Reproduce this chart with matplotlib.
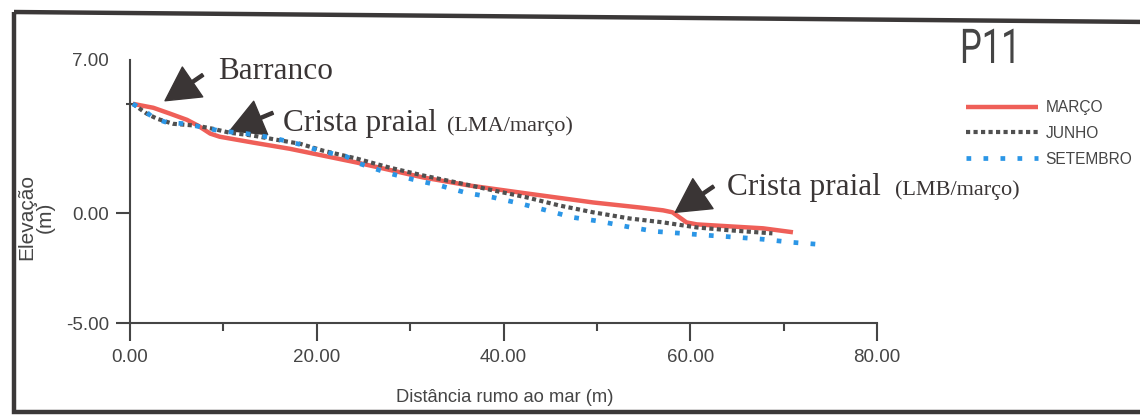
import matplotlib
matplotlib.use('Agg')
import matplotlib.pyplot as plt
from matplotlib.patches import Polygon, PathPatch
from matplotlib.textpath import TextPath
from matplotlib.font_manager import FontProperties
from matplotlib.transforms import Affine2D

# Perfil P11 - elevacao ao longo da distancia rumo ao mar
dist_marco = [0.3, 2.5, 4.3, 6.1, 7.3, 8.6, 9.6, 13.2, 17.1, 24.3, 31.4, 36.4,
              42.5, 49.6, 54.6, 57.1, 58.1, 59.6, 60.7, 64.2, 67.8, 71.0]
elev_marco = [5.0, 4.82, 4.55, 4.27, 4.0, 3.64, 3.5, 3.23, 2.95, 2.32, 1.64, 1.27,
              0.91, 0.5, 0.27, 0.14, 0.05, -0.41, -0.5, -0.59, -0.68, -0.86]

dist_junho = [0.3, 1.8, 2.9, 4.6, 7.2, 8.9, 10.7, 13.2, 15.7, 18.2, 20.7, 24.3,
              27.8, 31.4, 35.0, 38.9, 42.5, 46.0, 49.6, 53.5, 57.1, 60.7, 64.2, 68.8]
elev_junho = [5.0, 4.55, 4.32, 4.09, 4.0, 3.86, 3.68, 3.55, 3.36, 3.18, 2.86, 2.5,
              2.09, 1.73, 1.41, 1.05, 0.73, 0.36, 0.05, -0.23, -0.41, -0.64, -0.77, -0.91]

dist_setembro = [0.3, 1.6, 2.5, 4.0, 6.1, 7.5, 9.6, 12.5, 15.3, 18.2, 20.3, 23.2,
                 24.6, 27.5, 30.3, 33.2, 36.1, 38.9, 41.8, 44.6, 47.4, 50.3, 53.2,
                 56.2, 59.1, 61.9, 65.0, 67.8, 70.9, 73.7]
elev_setembro = [5.0, 4.68, 4.36, 4.14, 4.09, 3.95, 3.77, 3.64, 3.45, 3.15, 2.86, 2.59,
                 2.27, 1.86, 1.55, 1.27, 0.93, 0.73, 0.45, 0.14, -0.18, -0.36, -0.6,
                 -0.82, -0.91, -1.0, -1.09, -1.18, -1.32, -1.41]

x_ticks = [0, 20, 40, 60, 80]
x_minor = [10, 30, 50, 70]
y_ticks = [-5, 0, 7]

red = '#ef5f58'
gray = '#505050'
blue = '#2b96e6'
ink = '#454545'

plt.rcParams['font.family'] = ['Liberation Sans', 'DejaVu Sans']

W, H = 1140, 418
fig = plt.figure(figsize=(W / 100, H / 100), dpi=100)
fig.patch.set_facecolor('white')

# moldura escura em volta de tudo (pixels, origem em baixo)
frame = Polygon([(14, H - 12), (1150, H - 22), (1150, H - 412), (14, H - 412)],
                closed=True, fill=False, edgecolor='#3b3838', linewidth=3.2,
                transform=None)
fig.add_artist(frame)

ax = fig.add_axes([130 / W, 1 - 323 / H, 747 / W, 263 / H])
ax.set_xlim(0, 80)
ax.set_ylim(-5, 7)

ax.plot(dist_marco, elev_marco, color=red, lw=3.2, solid_capstyle='butt',
        label='MARÇO', zorder=3)
ax.plot(dist_junho, elev_junho, color=gray, lw=3.0, linestyle=(0, (1, 0.8)),
        label='JUNHO', zorder=4)
ax.plot(dist_setembro, elev_setembro, color=blue, lw=3.4, linestyle=(0, (1, 2.6)),
        label='SETEMBRO', zorder=5)

for s in ['top', 'right']:
    ax.spines[s].set_visible(False)
for s in ['left', 'bottom']:
    ax.spines[s].set_color(ink)
    ax.spines[s].set_linewidth(1.5)

ax.set_xticks(x_ticks)
ax.set_xticks(x_minor, minor=True)
ax.set_xticklabels(['%.2f' % v for v in x_ticks])
ax.set_yticks(y_ticks)
ax.set_yticks([5], minor=True)
ax.set_yticklabels(['%.2f' % v for v in y_ticks])
ax.tick_params(axis='x', which='major', length=13, width=1.5, color=ink,
               labelsize=13.5, labelcolor=ink, pad=6)
ax.tick_params(axis='x', which='minor', length=6, width=1.5, color=ink)
ax.tick_params(axis='y', which='major', length=10, width=1.5, color=ink,
               labelsize=13.5, labelcolor=ink, pad=5)
ax.tick_params(axis='y', which='minor', length=6, width=1.5, color=ink,
               direction='inout')
ax.yaxis.get_major_ticks()[-1].tick1line.set_visible(False)

fig.text(36 / W, 1 - 217 / H, 'Elevação\n(m)', rotation=90, ha='center',
         va='center', fontsize=15, color=ink, multialignment='center',
         linespacing=1.0)
fig.text(505 / W, 1 - 398 / H, 'Distância rumo ao mar (m)', ha='center',
         va='center', fontsize=13.2, color=ink)

# legenda
leg = fig.legend(loc='upper left', bbox_to_anchor=(952 / W, 1 - 86 / H),
                 frameon=False, fontsize=11.2, handlelength=4.6,
                 handletextpad=0.5, labelspacing=0.7, labelcolor=ink)

# titulo P11 em letra estreita
tp = TextPath((0, 0), 'P11', size=48,
              prop=FontProperties(family=['Roboto', 'DejaVu Sans']))
title = PathPatch(tp, facecolor=ink, edgecolor='none',
                  transform=Affine2D().scale(0.72, 1.0).translate(960, H - 63))
fig.add_artist(title)

# setas e textos
arrow_kw = dict(width=2.2, headwidth=26, headlength=24, shrink=0,
                facecolor='#3a3535', edgecolor='#3a3535')
ax.annotate('', xy=(3.75, 5.14), xytext=(7.8, 6.32), arrowprops=arrow_kw,
            annotation_clip=False)
ax.annotate('', xy=(10.7, 3.77), xytext=(15.3, 4.59), arrowprops=arrow_kw,
            annotation_clip=False)
ax.annotate('', xy=(58.4, 0.05), xytext=(62.5, 1.23), arrowprops=arrow_kw,
            annotation_clip=False)

serif = ['Liberation Serif', 'DejaVu Serif']
tc = '#3a3535'
ax.text(9.4, 6.14, 'Barranco', family=serif, fontsize=22.5, color=tc,
        va='baseline')
ax.text(16.4, 3.77, 'Crista praial', family=serif, fontsize=22.5, color=tc,
        va='baseline')
ax.text(33.9, 3.77, '(LMA/março)', family=serif, fontsize=16, color=tc,
        va='baseline')
ax.text(63.9, 0.82, 'Crista praial', family=serif, fontsize=22.5, color=tc,
        va='baseline')
ax.text(81.9, 0.82, '(LMB/março)', family=serif, fontsize=16, color=tc,
        va='baseline')

fig.savefig('out.png', dpi=100, facecolor='white')
